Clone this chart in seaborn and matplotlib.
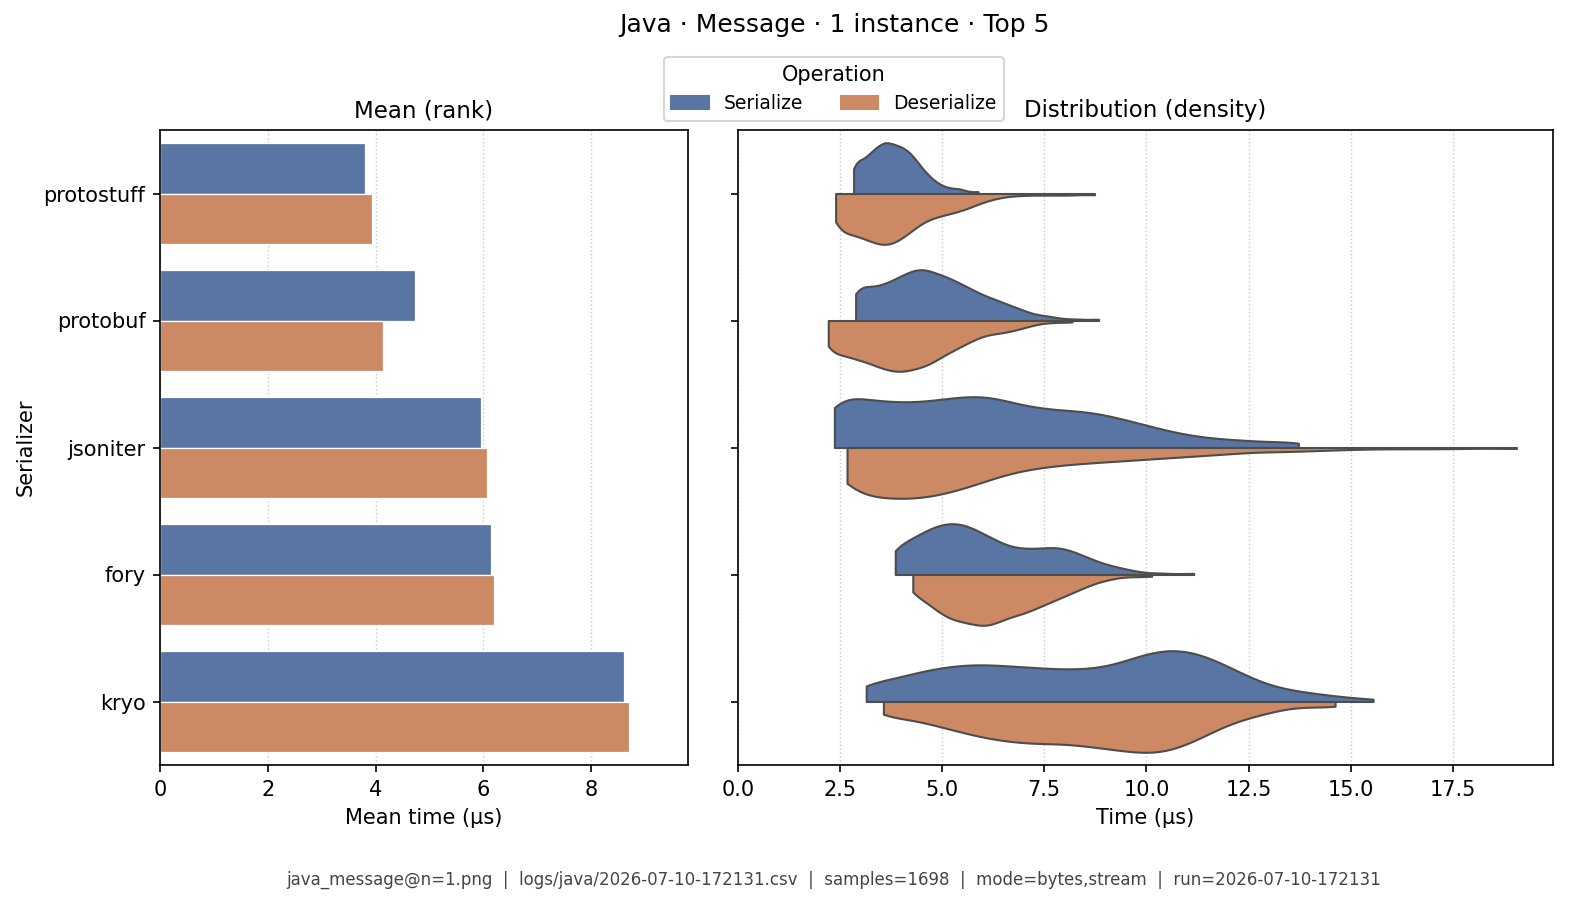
import numpy as np
import pandas as pd
import matplotlib
matplotlib.use("Agg")
import matplotlib.pyplot as plt
import seaborn as sns

# ---------------- data ----------------
serializers = ["protostuff", "protobuf", "jsoniter", "fory", "kryo"]
operations = ["Serialize", "Deserialize"]

mean_serialize = [3.80, 4.74, 5.95, 6.15, 8.61]
mean_deserialize = [3.94, 4.13, 6.06, 6.20, 8.71]

# distribution samples: sample values (µs) and how many samples sit at each value
protostuff_ser_vals = [2.83, 3.0, 3.2, 3.4, 3.6, 3.8, 4.0, 4.2, 4.4, 4.6, 4.8, 5.0, 5.2, 5.4, 5.6, 5.88]
protostuff_ser_cnts = [10, 12, 15, 18, 20, 19, 18, 16, 12, 8, 5, 3, 2, 2, 1, 1]
protostuff_des_vals = [2.39, 2.6, 2.85, 3.1, 3.35, 3.6, 3.85, 4.1, 4.35, 4.6, 4.85, 5.1, 5.35, 5.6, 5.85,
                       6.1, 6.4, 6.7, 7.0, 7.4, 7.8, 8.2, 8.73]
protostuff_des_cnts = [13, 14, 16, 17, 19, 20, 19, 16, 13, 10, 9, 8, 7, 6, 4, 3, 2, 1, 1, 1, 1, 1, 1]

protobuf_ser_vals = [2.88, 3.1, 3.35, 3.6, 3.85, 4.1, 4.35, 4.6, 4.85, 5.1, 5.35, 5.6, 5.85, 6.1, 6.35,
                     6.6, 6.85, 7.1, 7.35, 7.6, 7.9, 8.3, 8.83]
protobuf_ser_cnts = [14, 12, 13, 14, 16, 18, 20, 20, 18, 17, 15, 13, 11, 9, 8, 6, 5, 3, 2, 2, 1, 1, 1]
protobuf_des_vals = [2.21, 2.45, 2.7, 2.95, 3.2, 3.45, 3.7, 3.95, 4.2, 4.45, 4.7, 4.95, 5.2, 5.45, 5.7,
                     5.95, 6.2, 6.45, 6.7, 6.95, 7.2, 7.5, 7.8, 8.18]
protobuf_des_cnts = [14, 12, 14, 15, 16, 18, 19, 20, 19, 18, 17, 14, 12, 10, 8, 6, 5, 5, 4, 3, 2, 1, 1, 1]

jsoniter_ser_vals = [2.36, 2.86, 3.36, 3.86, 4.36, 4.86, 5.36, 5.86, 6.36, 6.86, 7.36, 7.86, 8.36, 8.86,
                     9.36, 9.86, 10.36, 10.86, 11.36, 11.86, 12.36, 12.86, 13.36, 13.72]
jsoniter_ser_cnts = [24, 18, 18, 17, 17, 18, 19, 20, 19, 16, 15, 14, 14, 13, 11, 9, 7, 5, 4, 3, 3, 2, 2, 2]
jsoniter_des_vals = [2.67, 3.17, 3.67, 4.17, 4.67, 5.17, 5.67, 6.17, 6.67, 7.17, 7.67, 8.17, 8.67, 9.17,
                     9.67, 10.17, 10.67, 11.17, 11.67, 12.17, 12.67, 13.5, 14.5, 15.5, 16.5, 17.5, 19.06]
jsoniter_des_cnts = [22, 18, 19, 20, 19, 17, 15, 12, 9, 8, 7, 6, 6, 5, 5, 4, 4, 3, 3, 2, 2, 3, 2, 1, 1, 1, 1]

fory_ser_vals = [3.85, 4.15, 4.45, 4.75, 5.05, 5.35, 5.65, 5.95, 6.25, 6.55, 6.85, 7.15, 7.45, 7.75, 8.05,
                 8.35, 8.65, 8.95, 9.25, 9.55, 9.9, 10.4, 11.16]
fory_ser_cnts = [13, 12, 16, 18, 20, 20, 19, 16, 14, 11, 10, 10, 10, 11, 10, 8, 6, 4, 3, 2, 1, 1, 1]
fory_des_vals = [4.28, 4.58, 4.88, 5.18, 5.48, 5.78, 6.08, 6.38, 6.68, 6.98, 7.28, 7.58, 7.88, 8.18, 8.48,
                 8.78, 9.08, 9.4, 9.75, 10.13]
fory_des_cnts = [8, 10, 14, 17, 18, 19, 20, 18, 16, 15, 13, 11, 9, 7, 5, 3, 2, 1, 1, 1]

kryo_ser_vals = [3.14, 3.64, 4.14, 4.64, 5.14, 5.64, 6.14, 6.64, 7.14, 7.64, 8.14, 8.64, 9.14, 9.64, 10.14,
                 10.64, 11.14, 11.64, 12.14, 12.64, 13.14, 13.64, 14.14, 14.64, 15.14, 15.55]
kryo_ser_cnts = [9, 7, 10, 12, 13, 14, 14, 13, 13, 12, 12, 12, 13, 16, 19, 20, 19, 16, 12, 8, 5, 4, 3, 2, 1, 1]
kryo_des_vals = [3.56, 4.06, 4.56, 5.06, 5.56, 6.06, 6.56, 7.06, 7.56, 8.06, 8.56, 9.06, 9.56, 10.06, 10.56,
                 11.06, 11.56, 12.06, 12.56, 13.06, 13.56, 14.06, 14.62]
kryo_des_cnts = [7, 6, 8, 10, 12, 14, 15, 16, 16, 16, 17, 18, 19, 20, 19, 16, 12, 8, 6, 4, 2, 2, 3]

title = "Java · Message · 1 instance · Top 5"
footer = ("java_message@n=1.png  |  logs/java/2026-07-10-172131.csv  |  samples=1698  |  "
          "mode=bytes,stream  |  run=2026-07-10-172131")

# ---------------- tables ----------------
mean_df = pd.DataFrame({
    "Serializer": serializers * 2,
    "Operation": ["Serialize"] * 5 + ["Deserialize"] * 5,
    "Mean": mean_serialize + mean_deserialize,
})

dist_src = {
    ("protostuff", "Serialize"): (protostuff_ser_vals, protostuff_ser_cnts),
    ("protostuff", "Deserialize"): (protostuff_des_vals, protostuff_des_cnts),
    ("protobuf", "Serialize"): (protobuf_ser_vals, protobuf_ser_cnts),
    ("protobuf", "Deserialize"): (protobuf_des_vals, protobuf_des_cnts),
    ("jsoniter", "Serialize"): (jsoniter_ser_vals, jsoniter_ser_cnts),
    ("jsoniter", "Deserialize"): (jsoniter_des_vals, jsoniter_des_cnts),
    ("fory", "Serialize"): (fory_ser_vals, fory_ser_cnts),
    ("fory", "Deserialize"): (fory_des_vals, fory_des_cnts),
    ("kryo", "Serialize"): (kryo_ser_vals, kryo_ser_cnts),
    ("kryo", "Deserialize"): (kryo_des_vals, kryo_des_cnts),
}
frames = []
for (ser, op), (vals, cnts) in dist_src.items():
    t = np.repeat(np.array(vals), np.array(cnts))
    frames.append(pd.DataFrame({"Serializer": ser, "Operation": op, "Time": t}))
dist_df = pd.concat(frames, ignore_index=True)

# ---------------- plot ----------------
plt.rcParams["font.family"] = ["DejaVu Sans"]

W, H = 1569, 906
DPI = 150
fig = plt.figure(figsize=(W / DPI, H / DPI), dpi=DPI)
ax1 = fig.add_axes([160 / W, 1 - 765 / H, (688 - 160) / W, (765 - 130) / H])
ax2 = fig.add_axes([738 / W, 1 - 765 / H, (1553 - 738) / W, (765 - 130) / H], sharey=ax1)

pal = sns.color_palette("deep", 2)

sns.barplot(data=mean_df, y="Serializer", x="Mean", hue="Operation",
            order=serializers, hue_order=operations, palette=pal,
            orient="h", ax=ax1, edgecolor="white", linewidth=0.6, errorbar=None)
ax1.set_xlim(0, max(mean_serialize + mean_deserialize) * 1.125)
ax1.set_title("Mean (rank)", fontsize=11)
ax1.set_xlabel("Mean time (µs)", fontsize=10)
ax1.set_ylabel("Serializer", fontsize=10)
ax1.legend_.remove()

sns.violinplot(data=dist_df, y="Serializer", x="Time", hue="Operation",
               order=serializers, hue_order=operations, palette=pal,
               orient="h", split=True, inner=None, cut=0, density_norm="width",
               bw_adjust=0.55, linewidth=1.0, linecolor=".3", ax=ax2)
ax2.set_xlim(0, dist_df["Time"].max() * 1.047)
ax2.set_title("Distribution (density)", fontsize=11)
ax2.set_xlabel("Time (µs)", fontsize=10)
ax2.set_ylabel("")
ax2.tick_params(labelleft=False)
ax2.legend_.remove()

for ax in (ax1, ax2):
    ax.grid(axis="x", linestyle=":", color="#cccccc", linewidth=0.7)
    ax.set_axisbelow(True)
    ax.tick_params(axis="both", labelsize=10)
ax1.set_ylim(4.5, -0.5)

handles = [plt.Rectangle((0, 0), 1, 1, color=sns.desaturate(c, 0.75)) for c in pal]
fig.legend(handles, operations, title="Operation", ncol=2, loc="upper center",
           bbox_to_anchor=(834 / W, 1 - 48 / H), fontsize=9, title_fontsize=10,
           frameon=True, columnspacing=2.0)

fig.text(834 / W, 1 - 25 / H, title, ha="center", va="center", fontsize=12)
fig.text(834 / W, 1 - 880 / H, footer, ha="center", va="center", fontsize=8, color="#444444")

fig.savefig("out.png", dpi=DPI)
